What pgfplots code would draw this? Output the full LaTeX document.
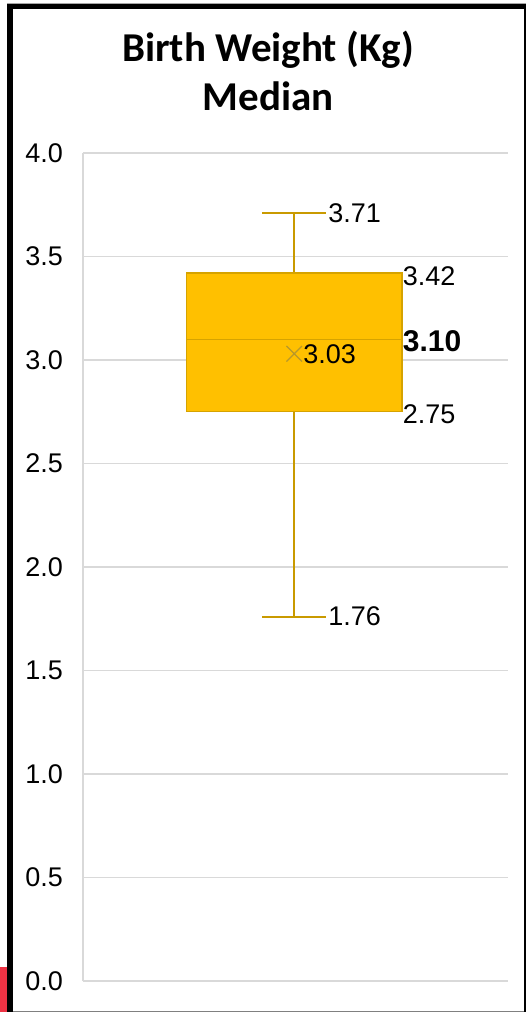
\documentclass[border=0pt]{standalone}
\usepackage{pgfplots}
\pgfplotsset{compat=1.18}
\usepackage{fontspec}
\setmainfont{Liberation Sans}
\newfontfamily\titlefont{Carlito}

\definecolor{boxfill}{HTML}{FFC000}
\definecolor{boxedge}{HTML}{D6A300}
\definecolor{whisk}{HTML}{C99A00}
\definecolor{avgc}{HTML}{B8982A}
\definecolor{gridc}{HTML}{D9D9D9}
\definecolor{tabred}{HTML}{EE3344}

\newcommand{\lblfont}{\fontsize{27}{27}\selectfont}

% five-number summary and mean
\pgfplotstableread{
x      y
0.497  1.76
0.497  3.71
}\whiskerline
\pgfplotstableread{
x      y
0.422  3.71
0.572  3.71
}\uppercap
\pgfplotstableread{
x      y
0.422  1.76
0.572  1.76
}\lowercap
\pgfplotstableread{
x      y
0.244  2.75
0.750  2.75
0.750  3.42
0.244  3.42
}\quartilebox
\pgfplotstableread{
x      y
0.244  3.10
0.750  3.10
}\medianline
\pgfplotstableread{
x      y
0.497  3.03
}\meanpoint

\begin{document}
\begin{tikzpicture}
\useasboundingbox (0pt,0pt) rectangle (526pt,1012pt);
% frame around the chart
\fill[tabred] (0pt,0pt) rectangle (7.3pt,45.3pt);
\fill[gray!70] (7.3pt,1007.5pt) rectangle (526pt,1008.8pt);
\fill[black] (7.3pt,0pt) rectangle (13pt,1007.5pt);
\fill[black] (7.3pt,1002.5pt) rectangle (526pt,1007.5pt);
\fill[black] (523.5pt,0pt) rectangle (526pt,1007.5pt);
\fill[gray] (13pt,0pt) rectangle (523.5pt,1.3pt);

% title
\node[anchor=base] at (268pt,950pt) {\titlefont\bfseries\fontsize{41}{41}\selectfont Birth Weight (Kg)};
\node[anchor=base] at (268pt,901pt) {\titlefont\bfseries\fontsize{41}{41}\selectfont Median};

\begin{axis}[
  at={(83pt,31pt)}, anchor=south west,
  scale only axis, width=425pt, height=828pt,
  xmin=0, xmax=1, ymin=0, ymax=4,
  xtick=\empty,
  ytick={0,0.5,1,1.5,2,2.5,3,3.5,4},
  yticklabel style={/pgf/number format/.cd, fixed, fixed zerofill, precision=1,
    /tikz/.cd, font=\lblfont, anchor=east, inner sep=0pt, xshift=-20pt},
  /pgf/number format/assume math mode=true,
  major tick length=0pt,
  ymajorgrids,
  grid style={gridc, line width=1.3pt},
  axis x line*=bottom, axis y line*=left,
  axis line style={gridc, line width=1.3pt},
  clip=false,
]
% whiskers and caps
\addplot[draw=whisk, line width=2.2pt, no marks] table {\whiskerline};
\addplot[draw=whisk, line width=2pt, no marks] table {\uppercap};
\addplot[draw=whisk, line width=2pt, no marks] table {\lowercap};
% box and median
\addplot[draw=boxedge, fill=boxfill, line width=1.5pt, no marks] table {\quartilebox} -- cycle;
\addplot[draw=boxedge, line width=1.5pt, no marks] table {\medianline};
% mean
\addplot[only marks, mark=x, mark size=11pt,
  mark options={draw=avgc, line width=1.2pt}] table {\meanpoint};

% value labels
\node[anchor=west, inner sep=0pt, font=\lblfont, xshift=2pt] at (axis cs:0.572,3.71) {3.71};
\node[anchor=west, inner sep=0pt, font=\lblfont, xshift=1pt, yshift=-3pt] at (axis cs:0.750,3.42) {3.42};
\node[anchor=west, inner sep=0pt, font=\fontsize{30}{30}\selectfont\bfseries, xshift=1pt, yshift=-2pt] at (axis cs:0.750,3.10) {3.10};
\node[anchor=west, inner sep=0pt, font=\lblfont, xshift=1pt, yshift=-2pt] at (axis cs:0.750,2.75) {2.75};
\node[anchor=west, inner sep=0pt, font=\lblfont, xshift=9pt] at (axis cs:0.497,3.03) {3.03};
\node[anchor=west, inner sep=0pt, font=\lblfont, xshift=2pt] at (axis cs:0.572,1.76) {1.76};
\end{axis}
\end{tikzpicture}
\end{document}
